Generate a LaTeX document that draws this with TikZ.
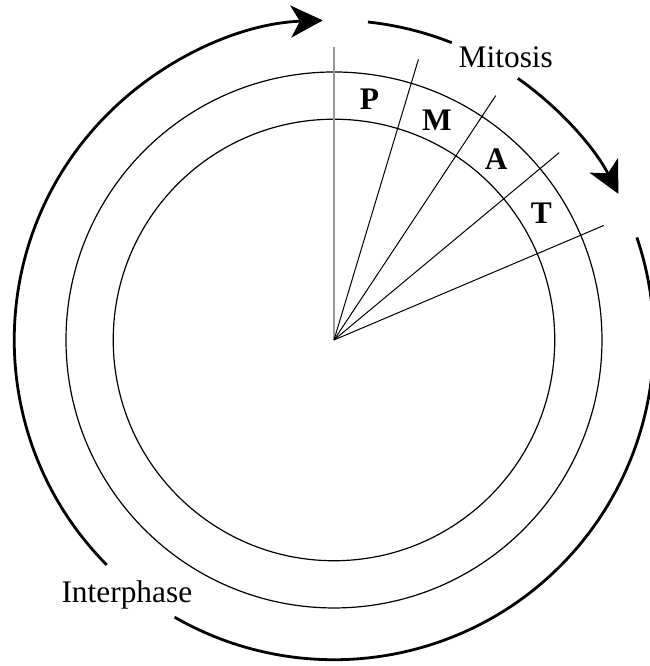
\documentclass[tikz,border=0pt]{standalone}
\usepackage{fontspec}
\setmainfont{Liberation Serif}
\usetikzlibrary{arrows.meta}

\begin{document}
\begin{tikzpicture}[
    font=\fontsize{15.7}{18}\selectfont,
    ring/.style={line width=0.6pt},
    spoke/.style={line width=0.5pt},
    band/.style={line width=1.4pt},
    phase/.style={band, -{Stealth[length=16pt, width=16pt, inset=4.5pt]}},
    stage/.style={font=\fontsize{15.7}{18}\selectfont\bfseries}
  ]
  \useasboundingbox (-5.87,-5.73) rectangle (5.55,5.975);
  \coordinate (c) at (0,0);
  \draw[ring] (c) circle[radius=3.88];
  \draw[ring] (c) circle[radius=4.71];
  \draw[line width=1.4pt, black!40] (c) -- (90:5.15);
  \foreach \a in {73.25,56.5,39.75,23}
    \draw[spoke] (c) -- (\a:5.15);
  \foreach \a/\s in {81.6/P,64.9/M,48.1/A,31.4/T}
    \node[stage] (\s) at (\a:4.27) {\s};
  % outer arcs
  \draw[phase] (224.7:5.62) arc[start angle=224.7, end angle=92, radius=5.62];
  \draw[band] (83.9:5.62) arc[start angle=83.9, end angle=68.4, radius=5.62];
  \draw[phase] (54.9:5.62) arc[start angle=54.9, end angle=27.2, radius=5.62];
  \draw[band] (18.7:5.62) arc[start angle=18.7, end angle=-119.9, radius=5.62];
  \node (mitosis) at (3.02,4.96) {Mitosis};
  \node (interphase) at (-3.64,-4.48) {Interphase};
\end{tikzpicture}
\end{document}
